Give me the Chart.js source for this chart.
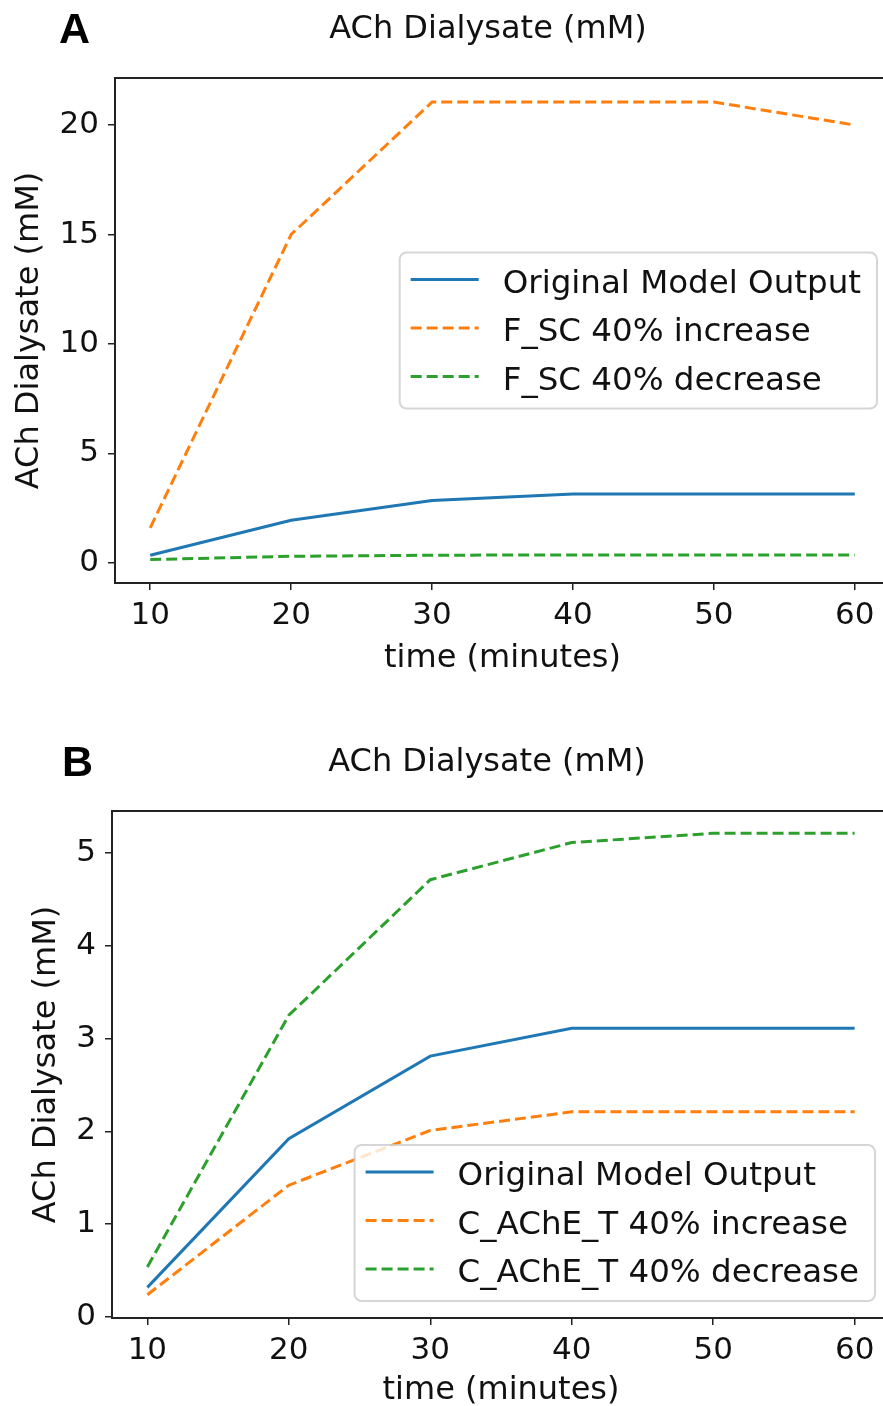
<!DOCTYPE html>
<html>
<head>
<meta charset="utf-8">
<script src="https://cdn.jsdelivr.net/npm/chart.js@4.4.1/dist/chart.umd.min.js"></script>
<style>
  html, body { margin:0; padding:0; background:#fff; }
  #wrap { position:relative; width:883px; height:1406px; overflow:hidden; background:#fff; }
  canvas { position:absolute; left:0; }
  #c1 { top:0; }
  #c2 { top:700px; }
</style>
</head>
<body>
<div id="wrap">
  <canvas id="c1" width="920" height="700"></canvas>
  <canvas id="c2" width="920" height="740"></canvas>
</div>
<script>
// ---- data ----
const timeMinutes = [10, 20, 30, 40, 50, 60];
const xTickValues = [10, 20, 30, 40, 50, 60];
const yTicksA = [0, 5, 10, 15, 20];
const yTicksB = [0, 1, 2, 3, 4, 5];

const labelsA = ['Original Model Output', 'F_SC 40% increase', 'F_SC 40% decrease'];
const originalA = [0.35, 1.95, 2.85, 3.15, 3.15, 3.15];
const fscIncrease = [1.6, 15.0, 21.05, 21.05, 21.05, 20.0];
const fscDecrease = [0.15, 0.30, 0.35, 0.36, 0.36, 0.36];

const labelsB = ['Original Model Output', 'C_AChE_T 40% increase', 'C_AChE_T 40% decrease'];
const originalB = [0.32, 1.92, 2.81, 3.11, 3.11, 3.11];
const acheIncrease = [0.24, 1.42, 2.01, 2.21, 2.21, 2.21];
const acheDecrease = [0.54, 3.25, 4.71, 5.11, 5.21, 5.21];

const panelTitle = 'ACh Dialysate (mM)';
const xTitle = 'time (minutes)';
const yTitle = 'ACh Dialysate (mM)';

// ---- styling ----
const FONT = 'DejaVu Sans';
const TXT = '#111';
const BLUE = '#1f77b4', ORANGE = '#ff7f0e', GREEN = '#2ca02c';
const DASH = [11, 5];

function pts(values) {
  return timeMinutes.map((t, i) => ({ x: t, y: values[i] }));
}

function ds(label, values, color, dashed) {
  return {
    label, data: pts(values), borderColor: color, backgroundColor: color,
    borderWidth: 3, borderDash: dashed ? DASH : [], pointRadius: 0, tension: 0, fill: false
  };
}

const framePlugin = {
  id: 'frameAndText',
  afterDatasetsDraw(chart) {
    const o = chart.options.plugins.frameAndText;
    const ctx = chart.ctx, a = chart.chartArea;
    ctx.save();
    ctx.strokeStyle = '#222';
    ctx.lineWidth = 2;
    ctx.strokeRect(a.left, a.top, a.right - a.left, a.bottom - a.top);
    // legend
    const items = chart.data.datasets;
    ctx.font = '32.5px "' + FONT + '"';
    let maxW = 0;
    items.forEach(d => { maxW = Math.max(maxW, ctx.measureText(d.label).width); });
    const textOff = 103, boxW = textOff + maxW + 16, boxH = 156;
    const right = a.right - o.legendInset;
    const left = right - boxW;
    let top;
    if (o.legendLoc === 'center right') top = (a.top + a.bottom) / 2 - boxH / 2;
    else top = a.bottom - o.legendBottomInset - boxH;
    ctx.beginPath();
    ctx.roundRect(left, top, boxW, boxH, 7);
    ctx.fillStyle = 'rgba(255,255,255,0.8)';
    ctx.fill();
    ctx.strokeStyle = 'rgba(204,204,204,0.8)';
    ctx.lineWidth = 2;
    ctx.stroke();
    items.forEach((d, i) => {
      const y = top + 27 + i * 48.5;
      ctx.beginPath();
      ctx.setLineDash(d.borderDash || []);
      ctx.strokeStyle = d.borderColor;
      ctx.lineWidth = 3;
      ctx.moveTo(left + 11, y);
      ctx.lineTo(left + 79, y);
      ctx.stroke();
      ctx.setLineDash([]);
      ctx.fillStyle = TXT;
      ctx.textAlign = 'left';
      ctx.textBaseline = 'middle';
      ctx.fillText(d.label, left + textOff, y + 5);
    });
    ctx.restore();
  },
  afterDraw(chart) {
    const o = chart.options.plugins.frameAndText;
    const ctx = chart.ctx;
    ctx.save();
    ctx.fillStyle = TXT;
    ctx.textBaseline = 'alphabetic';
    ctx.textAlign = 'center';
    ctx.font = '32px "' + FONT + '"';
    ctx.fillText(o.title, o.titleX, o.titleBaseline);
    ctx.textAlign = 'left';
    ctx.fillStyle = '#000';
    ctx.font = 'bold 43px "Liberation Sans"';
    ctx.fillText(o.letter, o.letterX, o.letterBaseline);
    ctx.restore();
  }
};

function makeChart(id, datasets, cfg) {
  const canvas = document.getElementById(id);
  const H = canvas.height, W = canvas.width;
  return new Chart(canvas, {
    type: 'line',
    data: { datasets },
    plugins: [framePlugin],
    options: {
      responsive: false,
      animation: false,
      devicePixelRatio: 1,
      layout: { padding: { left: 0, top: cfg.areaTop, right: W - cfg.areaRight, bottom: 0 } },
      plugins: {
        legend: { display: false },
        tooltip: { enabled: false },
        title: { display: false },
        frameAndText: cfg.text
      },
      scales: {
        x: {
          type: 'linear', min: cfg.xMin, max: cfg.xMax,
          afterBuildTicks: s => { s.ticks = xTickValues.map(v => ({ value: v })); },
          afterFit: s => { s.height = H - cfg.areaBottom; },
          border: { display: false },
          grid: { drawOnChartArea: false, drawTicks: true, tickLength: 7, color: '#222', lineWidth: 1.5 },
          ticks: { font: { family: FONT, size: 31 }, color: TXT, padding: 7, maxRotation: 0, autoSkip: false,
                   callback: v => String(v) },
          title: { display: true, text: xTitle, color: TXT, font: { family: FONT, size: 32 },
                   padding: { top: 0, bottom: cfg.xTitlePad } }
        },
        y: {
          type: 'linear', min: cfg.yMin, max: cfg.yMax,
          afterBuildTicks: s => { s.ticks = cfg.yTicks.map(v => ({ value: v })); },
          afterFit: s => { s.width = cfg.areaLeft; },
          border: { display: false },
          grid: { drawOnChartArea: false, drawTicks: true, tickLength: 7, color: '#222', lineWidth: 1.5 },
          ticks: { font: { family: FONT, size: 31 }, color: TXT, padding: 9, autoSkip: false,
                   callback: v => String(v) },
          title: { display: true, text: yTitle, color: TXT, font: { family: FONT, size: 32 },
                   padding: { top: cfg.yTitlePad, bottom: 0 } }
        }
      }
    }
  });
}

makeChart('c1', [
  ds(labelsA[0], originalA, BLUE, false),
  ds(labelsA[1], fscIncrease, ORANGE, true),
  ds(labelsA[2], fscDecrease, GREEN, true)
], {
  areaLeft: 115, areaTop: 78, areaBottom: 583, areaRight: 890,
  xMin: 7.5, xMax: 62.5, yMin: -0.92, yMax: 22.15, yTicks: yTicksA,
  xTitlePad: 22, yTitlePad: 10,
  text: { title: panelTitle, titleX: 488, titleBaseline: 38, letter: 'A', letterX: 59, letterBaseline: 43,
          legendLoc: 'center right', legendInset: 13, legendBottomInset: 0 }
});

makeChart('c2', [
  ds(labelsB[0], originalB, BLUE, false),
  ds(labelsB[1], acheIncrease, ORANGE, true),
  ds(labelsB[2], acheDecrease, GREEN, true)
], {
  areaLeft: 112, areaTop: 111, areaBottom: 618, areaRight: 890,
  xMin: 7.5, xMax: 62.5, yMin: -0.01, yMax: 5.45, yTicks: yTicksB,
  xTitlePad: 30, yTitlePad: 27,
  text: { title: panelTitle, titleX: 487, titleBaseline: 71, letter: 'B', letterX: 62, letterBaseline: 76,
          legendLoc: 'lower right', legendInset: 15, legendBottomInset: 17 }
});
</script>
</body>
</html>
